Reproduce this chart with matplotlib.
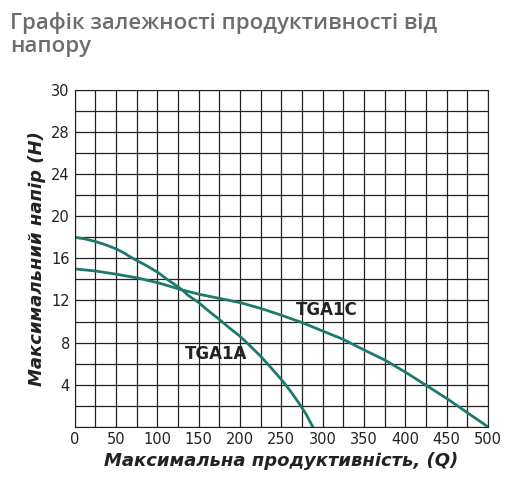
import numpy as np
import matplotlib
matplotlib.use("Agg")
import matplotlib.pyplot as plt

q_a = [0, 12, 25, 37, 50, 60, 67, 75, 87, 100, 112, 125, 130, 137, 150, 162, 175, 187,
       200, 212, 225, 237, 250, 260, 270, 280, 288]
h_a = [18, 17.85, 17.6, 17.3, 16.9, 16.5, 16.15, 15.8, 15.3, 14.7, 14.0, 13.3, 13.0, 12.5,
       11.8, 11.0, 10.2, 9.4, 8.6, 7.7, 6.7, 5.65, 4.5, 3.5, 2.4, 1.2, 0]
q_c = [0, 25, 50, 75, 100, 130, 150, 175, 200, 225, 250, 275, 300, 325, 345, 375, 400,
       425, 450, 475, 500]
h_c = [15, 14.8, 14.5, 14.15, 13.7, 13.0, 12.6, 12.2, 11.8, 11.25, 10.6, 9.9, 9.1, 8.3,
       7.5, 6.35, 5.2, 3.95, 2.7, 1.35, 0]
xticks = list(range(0, 501, 50))
yticks = [4, 8, 12, 16, 20, 24, 28, 32]
ylabels = ["4", "8", "12", "16", "20", "24", "28", "30"]

teal = "#1d7a6c"
fig = plt.figure(figsize=(5.12, 4.94), dpi=100)
ax = fig.add_axes([0.146, 0.136, 0.807, 0.682])
ax.set_xlim(0, 500)
ax.set_ylim(0, 32)
ax.set_xticks(np.arange(0, 501, 25), minor=True)
ax.set_yticks(np.arange(0, 33, 2), minor=True)
ax.set_xticks(xticks)
ax.set_yticks(yticks)
ax.set_yticklabels(ylabels)
ax.grid(which="both", color="#222222", lw=0.9)
ax.tick_params(which="both", length=0, labelsize=10.5, colors="#222222")
for s in ax.spines.values():
    s.set_color("#222222")
ax.plot(q_a, h_a, color=teal, lw=2)
ax.plot(q_c, h_c, color=teal, lw=2)
ax.text(268, 10.6, "TGA1C", fontsize=12, fontweight="bold", color="#222222")
ax.text(133, 6.4, "TGA1A", fontsize=12, fontweight="bold", color="#222222")
ax.set_xlabel("Максимальна продуктивність, (Q)", fontsize=13, fontweight="bold",
              fontstyle="italic", color="#222222")
ax.set_ylabel("Максимальний напір (H)", fontsize=13, fontweight="bold",
              fontstyle="italic", color="#222222")
fig.text(0.02, 0.975, "Графік залежності продуктивності від\nнапору", fontsize=16,
         fontweight="semibold", color="#6d6d6d", va="top", family="Open Sans", linespacing=1.1)
fig.savefig("out.png", dpi=100)
